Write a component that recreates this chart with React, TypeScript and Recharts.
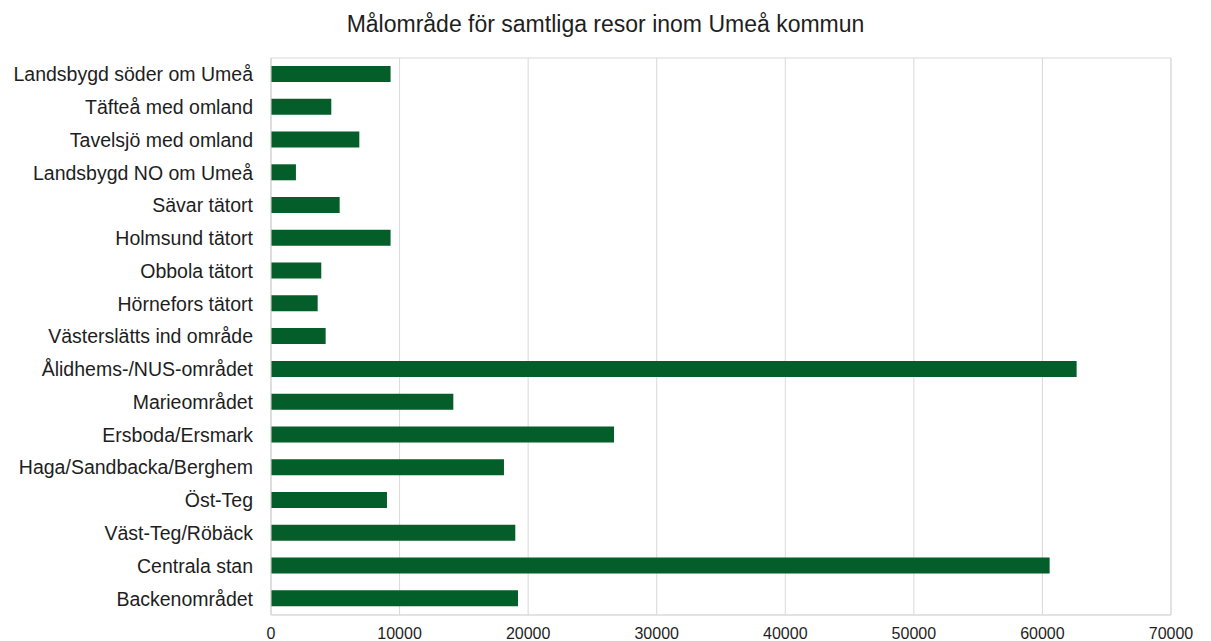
import React from "react";
import { BarChart, Bar, XAxis, YAxis, CartesianGrid, ReferenceArea } from "recharts";

const categories = [
  "Landsbygd söder om Umeå",
  "Täfteå med omland",
  "Tavelsjö med omland",
  "Landsbygd NO om Umeå",
  "Sävar tätort",
  "Holmsund tätort",
  "Obbola tätort",
  "Hörnefors tätort",
  "Västerslätts ind område",
  "Ålidhems-/NUS-området",
  "Marieområdet",
  "Ersboda/Ersmark",
  "Haga/Sandbacka/Berghem",
  "Öst-Teg",
  "Väst-Teg/Röbäck",
  "Centrala stan",
  "Backenområdet",
];

const values = [
  9300, 4690, 6870, 1940, 5340, 9300, 3910, 3630, 4250, 62660, 14180, 26680,
  18120, 9020, 19000, 60560, 19210,
];

const xTicks = [0, 10000, 20000, 30000, 40000, 50000, 60000, 70000];

const title = "Målområde för samtliga resor inom Umeå kommun";

const data = categories.map((name, i) => ({ name, value: values[i] }));

const FONT = '"Liberation Sans", Arial, sans-serif';
const GRID = "#d9d9d9";
const TEXT = "#1e1e1e";
const BAR = "#035e29";

export default function App() {
  return (
    <div
      style={{
        position: "absolute",
        left: 0,
        top: 0,
        width: 1211,
        height: 641,
        background: "#ffffff",
        fontFamily: FONT,
      }}
    >
      <div
        style={{
          position: "absolute",
          left: 0,
          top: 13,
          width: 1211,
          textAlign: "center",
          fontSize: 23,
          lineHeight: "23px",
          color: TEXT,
        }}
      >
        {title}
      </div>
      <BarChart
        width={1211}
        height={641}
        data={data}
        layout="vertical"
        margin={{ top: 58, right: 40, bottom: 0, left: 0 }}
        barSize={16}
        style={{ position: "absolute", left: 0, top: 0 }}
      >
        <CartesianGrid vertical={true} horizontal={false} stroke={GRID} />
        <ReferenceArea
          x1={0}
          x2={70000}
          fill="none"
          fillOpacity={0}
          stroke={GRID}
          strokeWidth={1}
          ifOverflow="visible"
        />
        <XAxis
          type="number"
          dataKey="value"
          domain={[0, 70000]}
          ticks={xTicks}
          interval={0}
          height={26}
          tickLine={false}
          tickSize={6}
          tickMargin={7}
          axisLine={{ stroke: GRID }}
          tick={{ fill: TEXT, fontSize: 16, fontFamily: FONT }}
        />
        <YAxis
          type="category"
          dataKey="name"
          width={271}
          interval={0}
          tickLine={false}
          tickSize={6}
          tickMargin={12}
          axisLine={{ stroke: GRID }}
          tick={{ fill: TEXT, fontSize: 19.5, fontFamily: FONT }}
        />
        <Bar dataKey="value" fill={BAR} isAnimationActive={false} />
      </BarChart>
    </div>
  );
}
